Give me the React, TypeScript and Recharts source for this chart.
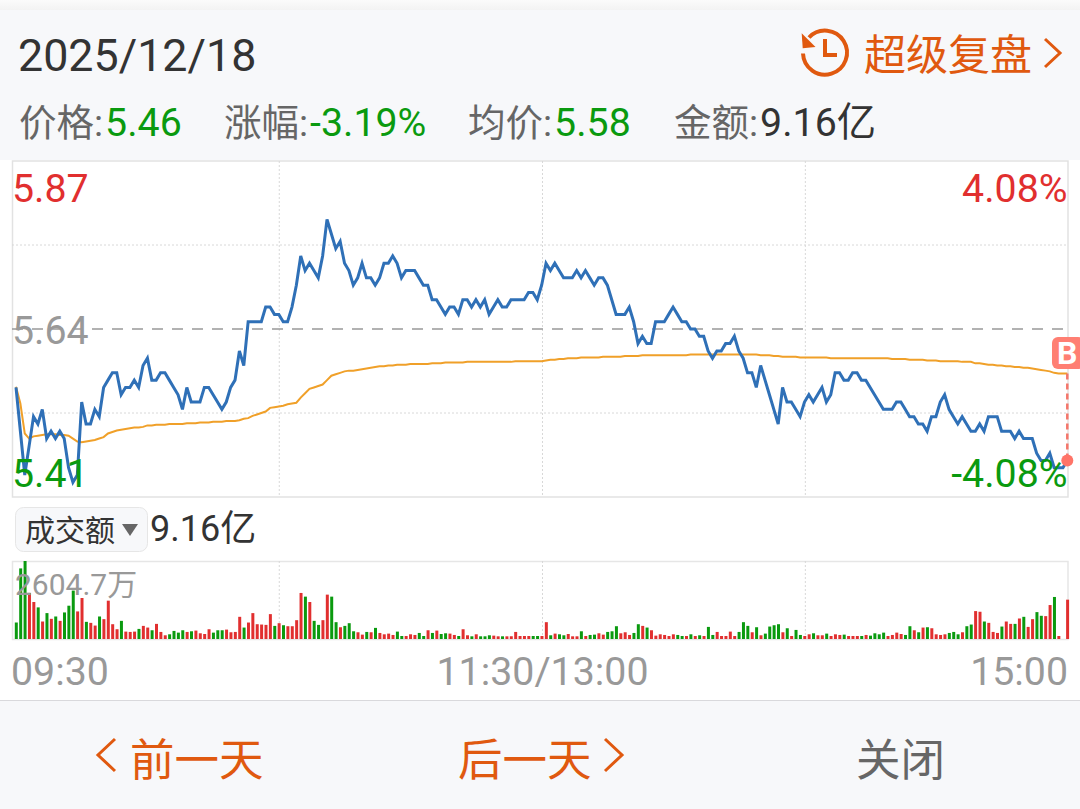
import React from 'react';
import { Bar, CartesianGrid, Cell, ComposedChart, Line, ReferenceDot, ReferenceLine, XAxis, YAxis } from 'recharts';

// one value per minute, 09:30 to 15:00
const price = [
  5.56, 5.50, 5.44, 5.48, 5.52, 5.51, 5.53, 5.49, 5.50, 5.49,
  5.50, 5.49, 5.45, 5.43, 5.44, 5.54, 5.51, 5.51, 5.53, 5.52,
  5.56, 5.57, 5.58, 5.58, 5.55, 5.56, 5.56, 5.57, 5.56, 5.59,
  5.60, 5.57, 5.57, 5.58, 5.58, 5.57, 5.56, 5.55, 5.53, 5.56,
  5.54, 5.54, 5.54, 5.56, 5.56, 5.55, 5.54, 5.53, 5.54, 5.56,
  5.57, 5.61, 5.59, 5.65, 5.65, 5.65, 5.65, 5.67, 5.67, 5.66,
  5.66, 5.65, 5.65, 5.67, 5.70, 5.74, 5.72, 5.73, 5.72, 5.71,
  5.74, 5.79, 5.77, 5.75, 5.76, 5.73, 5.72, 5.70, 5.71, 5.73,
  5.71, 5.71, 5.70, 5.71, 5.73, 5.73, 5.74, 5.73, 5.71, 5.72,
  5.72, 5.72, 5.71, 5.70, 5.70, 5.68, 5.68, 5.67, 5.66, 5.67,
  5.67, 5.66, 5.68, 5.68, 5.67, 5.68, 5.67, 5.68, 5.66, 5.67,
  5.68, 5.67, 5.67, 5.68, 5.68, 5.68, 5.68, 5.69, 5.69, 5.68,
  5.70, 5.73, 5.72, 5.73, 5.72, 5.71, 5.71, 5.71, 5.72, 5.71,
  5.72, 5.71, 5.70, 5.71, 5.71, 5.70, 5.68, 5.66, 5.66, 5.66,
  5.67, 5.65, 5.62, 5.63, 5.62, 5.62, 5.65, 5.65, 5.65, 5.66,
  5.67, 5.66, 5.65, 5.65, 5.64, 5.64, 5.63, 5.63, 5.61, 5.60,
  5.61, 5.61, 5.62, 5.62, 5.63, 5.61, 5.60, 5.58, 5.58, 5.56,
  5.59, 5.57, 5.55, 5.53, 5.51, 5.56, 5.54, 5.54, 5.53, 5.52,
  5.54, 5.55, 5.54, 5.55, 5.56, 5.54, 5.55, 5.58, 5.58, 5.57,
  5.57, 5.58, 5.58, 5.57, 5.57, 5.56, 5.55, 5.54, 5.53, 5.53,
  5.53, 5.54, 5.54, 5.53, 5.52, 5.52, 5.51, 5.51, 5.50, 5.52,
  5.52, 5.54, 5.55, 5.53, 5.52, 5.51, 5.52, 5.51, 5.50, 5.50,
  5.51, 5.50, 5.52, 5.52, 5.52, 5.50, 5.50, 5.50, 5.49, 5.50,
  5.49, 5.49, 5.49, 5.47, 5.46, 5.46, 5.47, 5.45, 5.45, 5.45,
  5.46,
];

const avgPrice = [
  5.561, 5.538, 5.497, 5.490, 5.493, 5.494, 5.495, 5.496, 5.496, 5.496,
  5.495, 5.495, 5.494, 5.490, 5.486, 5.485, 5.486, 5.487, 5.488, 5.490,
  5.492, 5.497, 5.499, 5.501, 5.502, 5.503, 5.504, 5.505, 5.505, 5.506,
  5.508, 5.508, 5.509, 5.509, 5.509, 5.510, 5.510, 5.510, 5.510, 5.511,
  5.511, 5.511, 5.512, 5.512, 5.512, 5.513, 5.513, 5.513, 5.514, 5.514,
  5.514, 5.515, 5.517, 5.518, 5.521, 5.523, 5.525, 5.527, 5.532, 5.533,
  5.534, 5.535, 5.537, 5.538, 5.539, 5.546, 5.552, 5.558, 5.560, 5.562,
  5.564, 5.570, 5.576, 5.578, 5.580, 5.582, 5.583, 5.583, 5.584, 5.585,
  5.586, 5.587, 5.588, 5.589, 5.589, 5.590, 5.590, 5.591, 5.591, 5.591,
  5.592, 5.592, 5.592, 5.592, 5.592, 5.593, 5.593, 5.593, 5.594, 5.594,
  5.594, 5.594, 5.594, 5.595, 5.595, 5.595, 5.595, 5.595, 5.595, 5.595,
  5.595, 5.595, 5.595, 5.595, 5.596, 5.596, 5.596, 5.596, 5.596, 5.596,
  5.596, 5.597, 5.598, 5.598, 5.599, 5.599, 5.600, 5.600, 5.600, 5.601,
  5.601, 5.601, 5.601, 5.601, 5.602, 5.602, 5.602, 5.602, 5.602, 5.603,
  5.603, 5.603, 5.603, 5.604, 5.604, 5.604, 5.604, 5.604, 5.604, 5.604,
  5.604, 5.604, 5.604, 5.604, 5.605, 5.605, 5.605, 5.605, 5.605, 5.605,
  5.605, 5.605, 5.605, 5.605, 5.605, 5.605, 5.605, 5.605, 5.605, 5.605,
  5.604, 5.604, 5.604, 5.603, 5.603, 5.602, 5.602, 5.602, 5.602, 5.601,
  5.601, 5.601, 5.601, 5.601, 5.601, 5.601, 5.600, 5.600, 5.600, 5.600,
  5.600, 5.600, 5.600, 5.600, 5.600, 5.600, 5.600, 5.600, 5.600, 5.600,
  5.599, 5.599, 5.599, 5.599, 5.598, 5.598, 5.598, 5.598, 5.597, 5.597,
  5.597, 5.596, 5.596, 5.596, 5.596, 5.596, 5.595, 5.595, 5.595, 5.593,
  5.593, 5.592, 5.591, 5.591, 5.590, 5.590, 5.589, 5.589, 5.588, 5.588,
  5.587, 5.587, 5.586, 5.585, 5.584, 5.583, 5.582, 5.580, 5.579, 5.579,
  5.579,
];

// turnover per minute, in 万
const volume = [
  550, 2358, 2605, 1538, 1235, 1056, 584, 865, 674, 752,
  606, 887, 1112, 1617, 921, 1370, 573, 539, 449, 752,
  663, 1280, 494, 326, 606, 247, 236, 247, 337, 438,
  382, 292, 505, 236, 124, 157, 270, 213, 292, 236,
  258, 281, 191, 168, 326, 213, 292, 292, 314, 225,
  236, 741, 382, 550, 865, 494, 483, 472, 831, 438,
  528, 460, 427, 427, 629, 1538, 1415, 1235, 606, 472,
  629, 1482, 1415, 562, 393, 438, 528, 258, 225, 146,
  236, 225, 371, 202, 157, 180, 135, 247, 101, 101,
  157, 135, 202, 101, 292, 202, 281, 168, 191, 180,
  135, 101, 326, 124, 90, 157, 90, 90, 124, 112,
  90, 90, 90, 90, 236, 101, 101, 101, 101, 101,
  101, 562, 124, 180, 157, 124, 168, 90, 90, 258,
  101, 135, 146, 191, 146, 236, 258, 427, 191, 225,
  135, 202, 494, 438, 382, 292, 112, 157, 135, 101,
  157, 135, 101, 101, 157, 101, 124, 101, 404, 135,
  236, 101, 101, 247, 101, 236, 562, 438, 225, 393,
  124, 180, 416, 460, 494, 225, 359, 101, 303, 135,
  101, 157, 191, 124, 124, 180, 101, 157, 135, 146,
  101, 101, 101, 101, 135, 112, 191, 157, 213, 101,
  135, 213, 168, 135, 427, 292, 225, 382, 393, 359,
  157, 135, 157, 202, 236, 157, 225, 427, 483, 932,
  910, 584, 539, 236, 202, 416, 584, 505, 505, 685,
  741, 404, 663, 898, 775, 764, 1134, 1404, 101, 0,
  1314,
];

// r = up bar, g = down bar, same order as volume
const volumeSide = [
  'gggrrgrgrg', 'rgggrrgrrg', 'rrrrgrrrgr', 'rgrrrggggr', 'grrrrgggrr', 'rrgrrrrrrg',
  'rgrrrrgrgg', 'rrggrgggrr', 'grgrrrrggr', 'rrggrgrggr', 'rgrrgrgggr', 'rgrrrrrrgg',
  'rrgrggrrrg', 'rggrrgggrr', 'rggrgrrrrr', 'rggrgrgrgg', 'rrrrrgggrg', 'rggggrgrgg',
  'rrgrrgrrrg', 'rrrgrggggr', 'rrrggrgrgr', 'rrrgggrggr', 'rgrrrgrrgr', 'grrggrrgrr',
  'r',
].join('');

const priceTicks = ['5.87', '5.64', '5.41'];
const percentTicks = ['4.08%', '-4.08%'];
const timeTicks = ['09:30', '11:30/13:00', '15:00'];
const stats = [
  { label: '价格:', value: '5.46', x: 19 },
  { label: '涨幅:', value: '-3.19%', x: 224 },
  { label: '均价:', value: '5.58', x: 468 },
  { label: '金额:', value: '9.16亿', x: 674 },
];

const priceDomain = [5.41, 5.87];
const prevClose = 5.64;
const xDomain = [-0.913, 240.16];
const gridX = [60.1, 120.2, 180.2];
const gridY = [5.755, 5.525];

const RED = '#e12f2f';
const GREEN = '#0a9a0f';
const ORANGE = '#e0590f';
const GRAY = '#999999';
const FONT = "Roboto, 'Noto Sans CJK SC', sans-serif";
const NUM_SIZE = 39.3;

const priceRows = price.map((p, i) => ({ i, price: p, avg: avgPrice[i] }));
const volumeRows = volume.map((v, i) => ({ i, volume: v }));

const Backdrop = () => (
  <svg width={1080} height={809} style={{ position: 'absolute', left: 0, top: 0 }}>
    <defs>
      <linearGradient id="topShade" x1="0" y1="0" x2="0" y2="1">
        <stop offset="0" stopColor="#fbfbfb" />
        <stop offset="1" stopColor="#f3f3f3" />
      </linearGradient>
    </defs>
    <rect width={1080} height={809} fill="#ffffff" />
    <rect width={1080} height={160} fill="#f7f8fa" />
    <rect width={1080} height={10} fill="url(#topShade)" />
    <rect y={700} width={1080} height={109} fill="#f7f8fa" />
    <rect y={700} width={1080} height={1} fill="#d9d9dc" />
    <rect x={12.5} y={161} width={1055.5} height={336} fill="none" stroke="#e2e2e2" strokeWidth={1.5} />
    <rect x={12.5} y={561.5} width={1055.5} height={78} fill="none" stroke="#e6e6e6" strokeWidth={1.5} />
  </svg>
);

const Overlay = () => (
  <svg width={1080} height={809} style={{ position: 'absolute', left: 0, top: 0, fontFamily: FONT }}>
    <text x={18} y={71} fontSize={44.8} fill="#333333">2025/12/18</text>
    {stats.map((s, i) => (
      <text key={s.label} x={s.x} y={136} fontSize={37.5}>
        <tspan fill="#666666">{s.label}</tspan>
        <tspan dx={2} fontSize={NUM_SIZE} fill={i === 3 ? '#333333' : GREEN}>{s.value}</tspan>
      </text>
    ))}

    <g fill="none" stroke={ORANGE} strokeWidth={4}>
      <path d="M809 37.5 A22 22 0 1 1 803 53.5" />
      <path d="M825 39 V55 H837" />
    </g>
    <path d="M801.7 33.3 L802.7 48.3 L815.5 47 Z" fill={ORANGE} />
    <text x={864} y={70} fontSize={42} fill={ORANGE}>超级复盘</text>
    <path d="M1045 39 L1060 53 L1045 67" fill="none" stroke={ORANGE} strokeWidth={3} />

    <text x={12} y={202} fontSize={NUM_SIZE} fill={RED}>{priceTicks[0]}</text>
    <text x={12} y={344} fontSize={NUM_SIZE} fill={GRAY}>{priceTicks[1]}</text>
    <text x={12} y={487} fontSize={NUM_SIZE} fill={GREEN}>{priceTicks[2]}</text>
    <text x={1067.5} y={202} fontSize={NUM_SIZE} fill={RED} textAnchor="end">{percentTicks[0]}</text>
    <text x={1067.5} y={487} fontSize={NUM_SIZE} fill={GREEN} textAnchor="end">{percentTicks[1]}</text>

    <rect x={1052} y={337} width={32} height={32} rx={6} fill="#ff7f73" />
    <text x={1057} y={364} fontSize={32} fontWeight={700} fill="#ffffff">B</text>

    <rect x={15.5} y={507.5} width={132} height={44} rx={8} fill="#f7f8fa" stroke="#e6e6e6" />
    <text x={25} y={541} fontSize={30} fill="#333333">成交额</text>
    <path d="M122 524 H138 L130 536 Z" fill="#666666" />
    <text x={150} y={541} fontSize={36} fill="#333333">9.16亿</text>
    <text x={15} y={595} fontSize={30} fill={GRAY}>2604.7万</text>

    <text x={11} y={685} fontSize={NUM_SIZE} fill={GRAY}>{timeTicks[0]}</text>
    <text x={542.5} y={685} fontSize={NUM_SIZE} fill={GRAY} textAnchor="middle">{timeTicks[1]}</text>
    <text x={1068} y={685} fontSize={NUM_SIZE} fill={GRAY} textAnchor="end">{timeTicks[2]}</text>

    <path d="M115 739 L98 755 L115 771" fill="none" stroke={ORANGE} strokeWidth={3} />
    <text x={130} y={776} fontSize={44.5} fill={ORANGE}>前一天</text>
    <text x={458} y={776} fontSize={44.5} fill={ORANGE}>后一天</text>
    <path d="M605 739 L622 755 L605 771" fill="none" stroke={ORANGE} strokeWidth={3} />
    <text x={856} y={776} fontSize={44.5} fill="#666666">关闭</text>
  </svg>
);

export default function App() {
  return (
    <div style={{ position: 'absolute', left: 0, top: 0, width: 1080, height: 809, overflow: 'hidden' }}>
      <Backdrop />

      <div style={{ position: 'absolute', left: 0, top: 161 }}>
        <ComposedChart width={1080} height={336} data={priceRows} margin={{ top: 0, right: 12, bottom: 0, left: 12 }}>
          <XAxis dataKey="i" type="number" domain={xDomain} hide />
          <YAxis type="number" domain={priceDomain} hide />
          <CartesianGrid stroke="#d8d8d8" strokeDasharray="2 2" horizontalValues={gridY} verticalValues={gridX} />
          <ReferenceLine y={prevClose} stroke="#999999" strokeWidth={1.5} strokeDasharray="11 9" />
          <Line dataKey="avg" stroke="#f0a029" strokeWidth={2} dot={false} isAnimationActive={false} />
          <Line dataKey="price" stroke="#2f70b7" strokeWidth={3} dot={false} isAnimationActive={false} />
          <ReferenceLine
            segment={[{ x: 240, y: 5.579 }, { x: 240, y: 5.46 }]}
            stroke="#f4766a"
            strokeWidth={2.5}
            strokeDasharray="6 4"
          />
          <ReferenceDot x={240} y={5.46} r={6} fill="#ff7468" stroke="none" />
        </ComposedChart>
      </div>

      <div style={{ position: 'absolute', left: 0, top: 561 }}>
        <ComposedChart width={1080} height={78} data={volumeRows} margin={{ top: 0, right: 12, bottom: 0, left: 12 }}>
          <XAxis dataKey="i" type="number" domain={xDomain} hide />
          <YAxis type="number" domain={[0, 2604.7]} hide />
          <CartesianGrid stroke="#d8d8d8" strokeDasharray="2 2" horizontal={false} verticalValues={gridX} />
          <Bar dataKey="volume" barSize={3} isAnimationActive={false}>
            {volumeRows.map((row) => (
              <Cell key={row.i} fill={volumeSide[row.i] === 'r' ? RED : GREEN} />
            ))}
          </Bar>
        </ComposedChart>
      </div>

      <Overlay />
    </div>
  );
}
